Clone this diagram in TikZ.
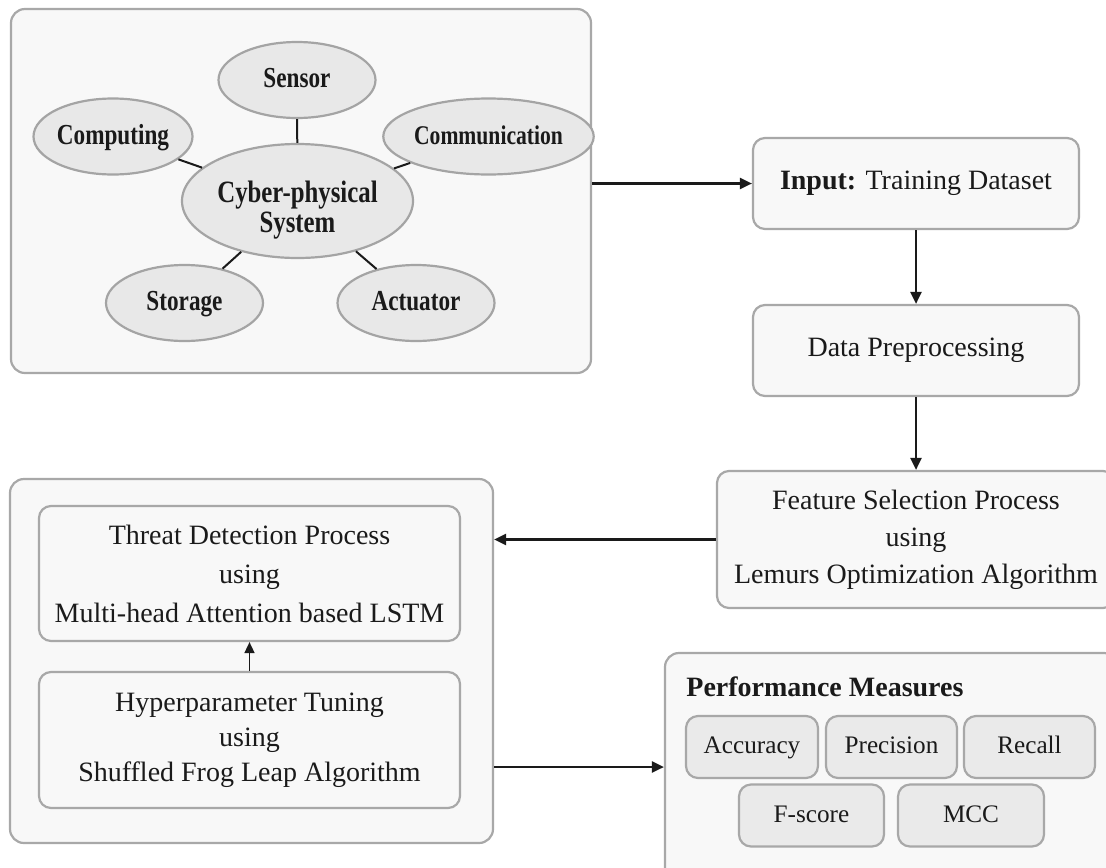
\documentclass[tikz,border=0pt]{standalone}
\usepackage{fontspec}
\setmainfont{Liberation Serif}
\newfontfamily\narrowbold[FakeStretch=0.8]{Liberation Serif Bold}
\usetikzlibrary{shapes.geometric,arrows.meta}
\definecolor{panelfill}{HTML}{F8F8F8}
\definecolor{panelline}{HTML}{A8A8A8}
\definecolor{ellfill}{HTML}{E8E8E8}
\definecolor{ellline}{HTML}{A4A4A4}
\definecolor{chipfill}{HTML}{EAEAEA}
\definecolor{ink}{HTML}{1A1A1A}
\tikzset{
  panel/.style={draw=panelline, fill=panelfill, line width=1.1pt, rounded corners=7pt,
    inner sep=0pt, align=center, text=ink},
  stepbox/.style={panel, rounded corners=6pt, font=\fontsize{14}{18.5}\selectfont},
  chip/.style={draw=panelline, fill=chipfill, line width=1.1pt, rounded corners=6pt,
    inner sep=0pt, minimum height=31pt, text=ink, text height=0.68em, text depth=0pt,
    font=\fontsize{12.6}{15}\selectfont},
  blob/.style={ellipse, draw=ellline, fill=ellfill, line width=1.1pt, inner sep=0pt,
    minimum width=78.5pt, minimum height=38pt, align=center, text=ink,
    text height=0.78em, text depth=0pt,
    font=\fontsize{14.5}{15}\narrowbold},
  spoke/.style={draw=ink, line width=1pt},
  flow/.style={draw=ink, line width=1.1pt, -{Triangle[length=6pt,width=5.5pt]}},
}
\begin{document}
\begin{tikzpicture}[x=0.5pt,y=-0.5pt]
\useasboundingbox (0,0) rectangle (1106,867);
\clip (0,0) rectangle (1106,867);
\fill[white] (0,0) rectangle (1106,867);

% cyber-physical system panel
\node[panel, minimum width=290pt, minimum height=182pt] (cps) at (301,191) {};
\node[blob, minimum width=115.5pt, minimum height=57pt, text height=, text depth=,
  font=\fontsize{15.5}{15}\narrowbold] (core) at (297.5,201)
  {\rule{0pt}{20pt}Cyber-physical\\System};
\node[blob] (sensor) at (297,80) {Sensor};
\node[blob, minimum width=79.5pt] (computing) at (113,136.5) {Computing};
\node[blob, minimum width=77.5pt, font=\fontsize{13.5}{14}\narrowbold]
  (comm) at (488.5,136.5) {Communication};
\node[blob] (storage) at (184.5,303) {Storage};
\node[blob] (actuator) at (416,303) {Actuator};
\foreach \e in {sensor,computing,comm,storage,actuator}
  \draw[spoke] (core) -- (\e);

% processing chain
\node[stepbox, minimum width=163pt, minimum height=45.5pt] (input) at (916,183.5)
  {\textbf{Input:} Training Dataset};
\node[stepbox, minimum width=163pt, minimum height=45.5pt] (prep) at (916,350.5)
  {Data Preprocessing};
\node[stepbox, minimum width=199pt, minimum height=68.5pt] (fsel) at (916,539.5)
  {Feature Selection Process\\using\\Lemurs Optimization Algorithm};

% detection panel
\node[panel, minimum width=241.5pt, minimum height=182pt] (det) at (251.5,661) {};
\node[stepbox, minimum width=210.5pt, minimum height=67.5pt,
  font=\fontsize{14}{19.5}\selectfont] (threat) at (249.5,573.5)
  {Threat Detection Process\\using\\Multi-head Attention based LSTM};
\node[stepbox, minimum width=210.5pt, minimum height=68pt,
  font=\fontsize{14}{17.5}\selectfont] (hyper) at (249.5,740)
  {Hyperparameter Tuning\\using\\Shuffled Frog Leap Algorithm};

% performance panel
\node[panel, minimum width=226.5pt, minimum height=114pt] (perf) at (891.5,767) {};
\node[anchor=base west, text=ink, font=\fontsize{14}{17}\selectfont\bfseries, inner sep=0pt]
  (perftitle) at (686,696) {Performance Measures};
\node[chip, minimum width=66pt] (acc) at (752,747) {Accuracy};
\node[chip, minimum width=65.5pt] (prec) at (891.5,747) {Precision};
\node[chip, minimum width=65.5pt] (rec) at (1029.5,747) {Recall};
\node[chip, minimum width=72.5pt] (fsc) at (811.5,815.5) {F-score};
\node[chip, minimum width=73pt] (mcc) at (971,815.5) {MCC};

% connectors
\draw[flow] (cps.east |- input.west) -- (input.west);
\draw[flow] (input.south) -- (prep.north);
\draw[flow] (prep.south) -- (fsel.north);
\draw[flow] (fsel.west) -- (fsel.west -| det.east);
\draw[draw=ink, line width=0.8pt, -{Triangle[length=5.5pt,width=5pt]}] (hyper.north) -- (threat.south);
\draw[flow] (det.east |- perf.west) -- (perf.west);
\end{tikzpicture}
\end{document}
